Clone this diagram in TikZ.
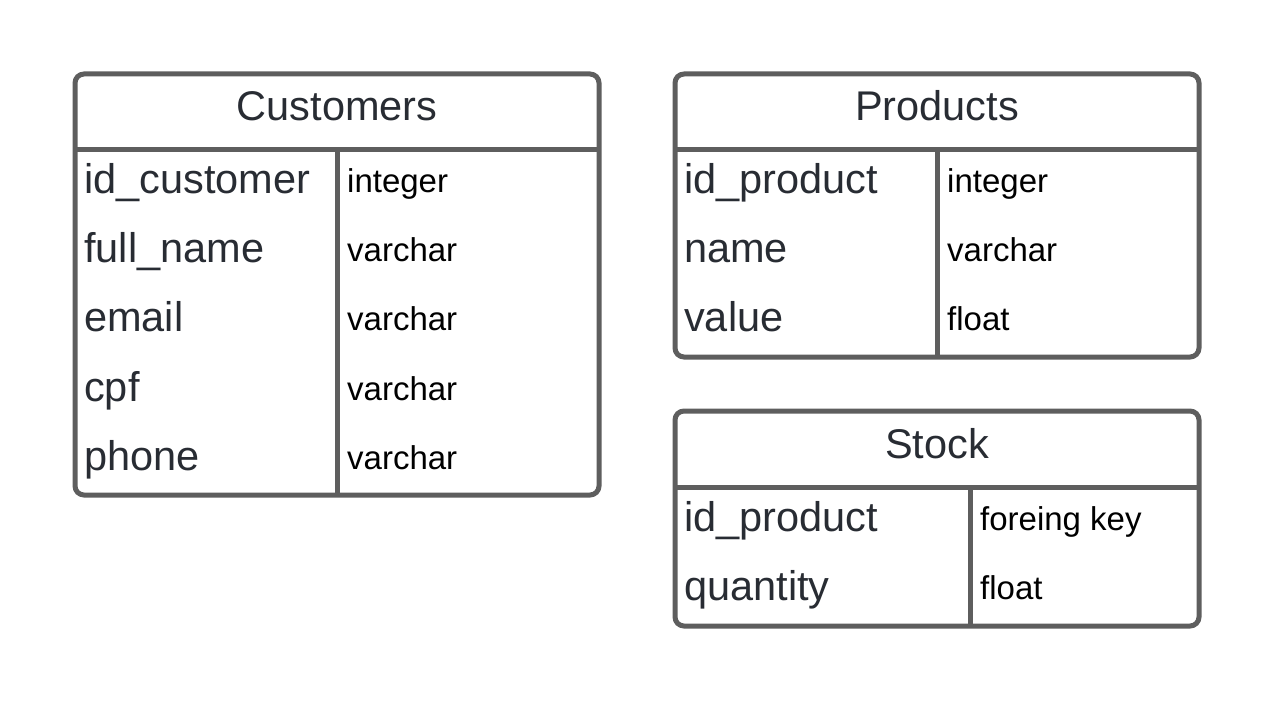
\documentclass[tikz,border=0pt]{standalone}
\usepackage{fontspec}
\setmainfont{Liberation Sans}
\definecolor{frame}{HTML}{5E5E5E}
\definecolor{ink}{HTML}{282C33}
\begin{document}
\begin{tikzpicture}[x=1pt,y=-1pt,
  tbl/.style={draw=frame,line width=5pt,rounded corners=9pt},
  sep/.style={draw=frame,line width=5pt},
  title/.style={anchor=base,inner sep=0pt,text=ink,font=\fontsize{41.5}{48}\selectfont},
  field/.style={anchor=base west,inner sep=0pt,text=ink,font=\fontsize{41.5}{48}\selectfont},
  ftype/.style={anchor=base west,inner sep=0pt,text=black,font=\fontsize{33}{40}\selectfont}]
\useasboundingbox[fill=white] (0,0) rectangle (1275,701);
% Customers
\draw[tbl] (75,74) rectangle (599,495);
\draw[sep] (75,149) -- (599,149);
\draw[sep] (337,149) -- (337,495);
\node[title] (ct) at (337,121) {Customers};
\node[field] (c1) at (84,193) {id\_customer};
\node[field] (c2) at (84,262.3) {full\_name};
\node[field] (c3) at (84,331.6) {email};
\node[field] (c4) at (84,401) {cpf};
\node[field] (c5) at (84,470.3) {phone};
\node[ftype] (ct1) at (347,192) {integer};
\node[ftype] (ct2) at (347,261.3) {varchar};
\node[ftype] (ct3) at (347,330.6) {varchar};
\node[ftype] (ct4) at (347,400) {varchar};
\node[ftype] (ct5) at (347,469.3) {varchar};
% Products
\draw[tbl] (675,74) rectangle (1199,357);
\draw[sep] (675,149) -- (1199,149);
\draw[sep] (937,149) -- (937,357);
\node[title] (pt) at (937,121) {Products};
\node[field] (p1) at (684,193) {id\_product};
\node[field] (p2) at (684,262.3) {name};
\node[field] (p3) at (684,331.6) {value};
\node[ftype] (pt1) at (947,192) {integer};
\node[ftype] (pt2) at (947,261.3) {varchar};
\node[ftype] (pt3) at (947,330.6) {float};
% Stock
\draw[tbl] (675,411) rectangle (1199,626);
\draw[sep] (675,487) -- (1199,487);
\draw[sep] (970,487) -- (970,626);
\node[title] (st) at (937,458) {Stock};
\node[field] (s1) at (684,531) {id\_product};
\node[field] (s2) at (684,600.5) {quantity};
\node[ftype] (st1) at (980,530) {foreing key};
\node[ftype] (st2) at (980,599.5) {float};
\end{tikzpicture}
\end{document}
